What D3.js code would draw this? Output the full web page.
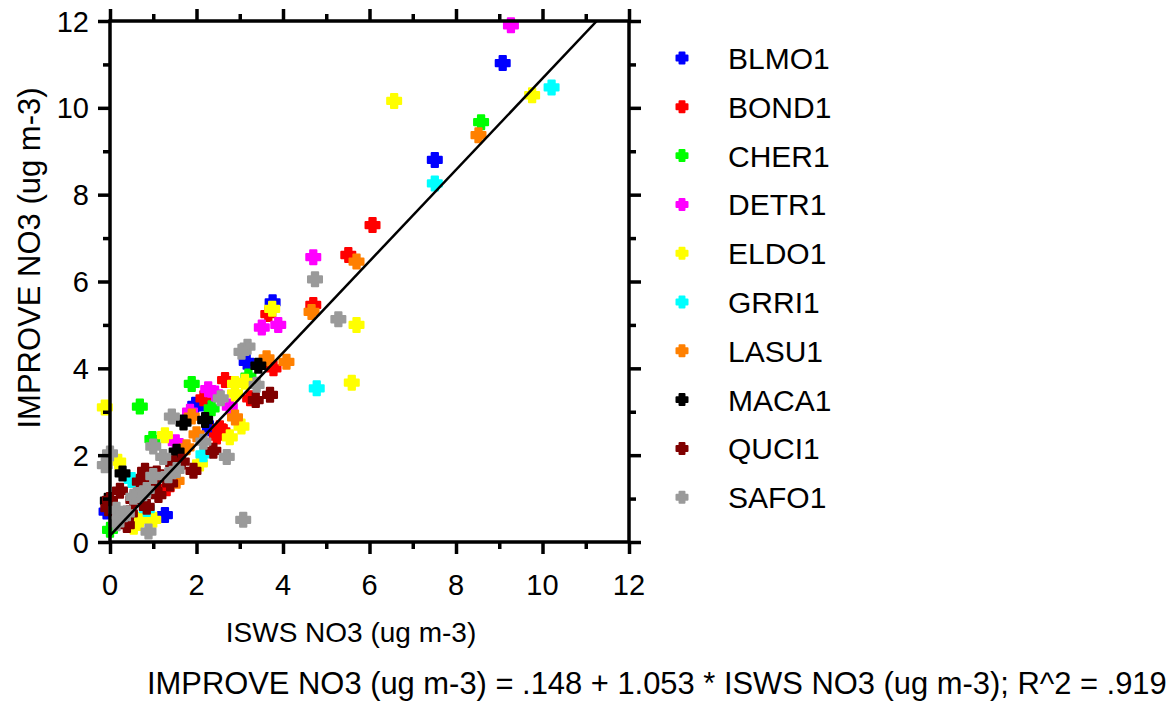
<html>
<head>
<style>
body{margin:0;background:#fff;}
svg{display:block;font-family:Arial,"Liberation Sans",sans-serif;}
</style>
<script src="https://cdn.jsdelivr.net/npm/d3@7"></script>
</head>
<body>
<svg id="svg" width="1174" height="702"></svg>
<script>

var sites = ["BLMO1","BOND1","CHER1","DETR1","ELDO1","GRRI1","LASU1","MACA1","QUCI1","SAFO1"];
var colors = ["#0000ff","#ff0000","#00ff00","#ff00ff","#ffff00","#00ffff","#ff8000","#000000","#800000","#9a9a9a"];

// [ISWS, IMPROVE] pairs
var BLMO1 = [[9.08,11.03],[7.51,8.80],[3.76,5.52],[3.16,4.15],[1.97,3.16],[2.12,3.19],[2.31,2.62],[1.27,0.62],[-0.08,0.70]];
var BOND1 = [[6.07,7.30],[5.51,6.61],[4.70,5.46],[3.66,5.25],[3.78,4.00],[2.66,3.73],[2.16,3.31],[3.24,3.31],[2.54,2.62],[2.47,2.43],[1.31,1.24],[2.60,2.55]];
var CHER1 = [[8.58,9.67],[1.89,3.64],[0.69,3.12],[3.20,3.81],[2.35,3.08],[0.98,2.37],[0.00,0.28]];
var DETR1 = [[9.27,11.90],[4.70,6.56],[3.51,4.94],[3.89,5.00],[2.27,3.52],[2.43,3.42],[2.77,3.12],[1.85,3.00],[1.52,2.30]];
var ELDO1 = [[6.57,10.16],[9.76,10.29],[3.75,5.37],[5.70,5.00],[5.59,3.67],[2.89,3.64],[3.12,3.69],[2.89,3.42],[3.04,2.66],[2.77,2.41],[1.27,2.46],[2.08,1.81],[-0.12,3.10],[0.19,1.85],[0.69,0.51],[1.00,0.51],[0.55,0.35]];
var GRRI1 = [[10.21,10.47],[7.51,8.26],[4.78,3.54],[2.16,2.02],[0.50,1.43],[0.85,0.76]];
var LASU1 = [[8.52,9.37],[5.70,6.46],[4.66,5.30],[3.62,4.23],[4.08,4.15],[2.89,2.87],[1.89,2.89],[2.00,2.48],[1.77,2.18],[1.54,1.41]];
var MACA1 = [[3.43,4.06],[1.70,2.75],[2.20,2.81],[1.54,2.08],[0.29,1.58],[-0.05,0.95]];
var QUCI1 = [[3.37,3.27],[3.70,3.39],[2.39,2.10],[1.66,1.85],[1.93,1.64],[0.81,1.64],[1.08,1.58],[1.46,1.81],[1.00,1.35],[0.69,1.39],[1.12,1.08],[0.54,0.97],[0.23,1.18],[0.00,0.97],[-0.04,0.78],[0.46,0.66],[0.85,0.81],[0.39,0.39],[1.39,1.35]];
var SAFO1 = [[4.74,6.05],[5.28,5.13],[3.18,4.50],[3.04,4.38],[3.39,3.62],[2.56,3.31],[1.43,2.89],[2.16,2.31],[2.70,1.96],[3.08,0.51],[1.00,2.20],[1.23,1.96],[0.00,2.04],[-0.12,1.77],[1.54,1.66],[1.35,1.54],[1.00,1.52],[0.62,1.08],[0.85,1.20],[0.15,0.74],[0.23,0.55],[0.39,0.66],[0.15,0.43],[0.89,0.24],[0.54,1.04],[0.77,1.12]];
var series = [BLMO1,BOND1,CHER1,DETR1,ELDO1,GRRI1,LASU1,MACA1,QUCI1,SAFO1];

var majorTicks = [0,2,4,6,8,10,12];
var minorTicks = [1,3,5,7,9,11];
var fit = {intercept:0.148, slope:1.053};
var equation = "IMPROVE NO3 (ug m-3) = .148 + 1.053 * ISWS NO3 (ug m-3); R^2 = .919";

var svg = d3.select("#svg");
var L = 110, T = 21, R = 629, B = 542;

var x = d3.scaleLinear().domain([0,12]).range([L,R]);
var y = d3.scaleLinear().domain([0,12]).range([B,T]);

// plus marker with rounded lobes
function plus(cx, cy, s){
	var a = s, b = s*0.45;
	return "M"+(cx-b)+","+(cy-a)+"H"+(cx+b)+"V"+(cy-b)+"H"+(cx+a)+"V"+(cy+b)+"H"+(cx+b)+"V"+(cy+a)+"H"+(cx-b)+"V"+(cy+b)+"H"+(cx-a)+"V"+(cy-b)+"H"+(cx-b)+"Z";
}

svg.append("defs").append("clipPath").attr("id","clip")
	.append("rect").attr("x",L).attr("y",T).attr("width",R-L).attr("height",B-T);

// points
var gp = svg.append("g");
series.forEach(function(s, i){
	gp.append("g").selectAll("path").data(s).enter().append("path")
		.attr("d", function(d){ return plus(x(d[0]), y(d[1]), 7); })
		.style("fill", colors[i])
		.style("stroke", colors[i])
		.style("stroke-width", 2)
		.style("stroke-linejoin", "round");
});

// regression line
var xEnd = (12 - fit.intercept)/fit.slope;
svg.append("line")
	.attr("clip-path","url(#clip)")
	.attr("x1", x(0)).attr("y1", y(fit.intercept))
	.attr("x2", x(xEnd)).attr("y2", y(12))
	.style("stroke","#000").style("stroke-width",2.5);

// frame
svg.append("rect").attr("x",L).attr("y",T).attr("width",R-L).attr("height",B-T)
	.style("fill","none").style("stroke","#000").style("stroke-width",3.5);

// ticks on all four sides, pointing outward
function ticks(axisFn, vals, size, tx, ty){
	var g = svg.append("g").attr("transform","translate("+tx+","+ty+")")
		.call(axisFn.tickValues(vals).tickSize(size).tickFormat(""));
	g.select(".domain").remove();
	g.selectAll("line").attr("stroke","#000").attr("stroke-width",3.5);
}
ticks(d3.axisBottom(x), majorTicks, 12, 0, B);
ticks(d3.axisBottom(x), minorTicks, 7, 0, B);
ticks(d3.axisTop(x), majorTicks, 12, 0, T);
ticks(d3.axisTop(x), minorTicks, 7, 0, T);
ticks(d3.axisLeft(y), majorTicks, 12, L, 0);
ticks(d3.axisLeft(y), minorTicks, 7, L, 0);
ticks(d3.axisRight(y), majorTicks, 12, R, 0);
ticks(d3.axisRight(y), minorTicks, 7, R, 0);

// tick labels
svg.append("g").selectAll("text").data(majorTicks).enter().append("text")
	.attr("x", function(d){ return x(d); }).attr("y", 595)
	.attr("text-anchor","middle").style("font-size","29px").text(function(d){ return d; });
svg.append("g").selectAll("text").data(majorTicks).enter().append("text")
	.attr("x", 89).attr("y", function(d){ return y(d) + 10.5; })
	.attr("text-anchor","end").style("font-size","29px").text(function(d){ return d; });

// axis titles
svg.append("text").attr("x",351).attr("y",642).attr("text-anchor","middle")
	.style("font-size","28px").text("ISWS NO3 (ug m-3)");
svg.append("text").attr("transform","translate(40,258) rotate(-90)").attr("text-anchor","middle")
	.style("font-size","31px").text("IMPROVE NO3 (ug m-3)");
svg.append("text").attr("x",147).attr("y",694)
	.style("font-size","30.9px").text(equation);

// legend
var lg = svg.append("g");
sites.forEach(function(name, i){
	var cy = 58 + i*48.8;
	lg.append("path").attr("d", plus(682, cy, 5.5))
		.style("fill", colors[i]).style("stroke", colors[i]).style("stroke-width",2).style("stroke-linejoin","round");
	lg.append("text").attr("x",728).attr("y",cy+11).style("font-size","30px").text(name);
});

</script>
</body>
</html>
